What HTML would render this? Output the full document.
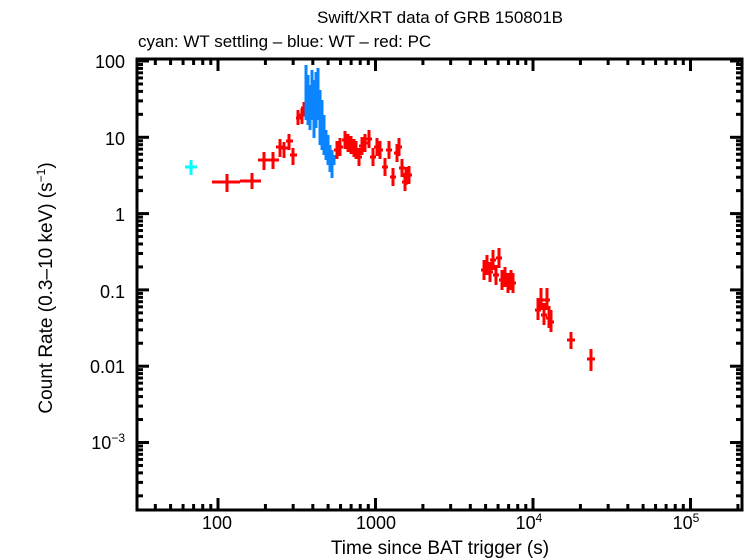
<!DOCTYPE html>
<html><head><meta charset="utf-8"><style>
html,body{margin:0;padding:0;background:#fff}
svg{display:block;font-family:"Liberation Sans",sans-serif}
</style></head><body>
<svg id="s" width="746" height="558" viewBox="0 0 746 558" xmlns="http://www.w3.org/2000/svg">
<text x="440" y="23" font-size="17" text-anchor="middle">Swift/XRT data of GRB 150801B</text>
<text x="138" y="47" font-size="17">cyan: WT settling – blue: WT – red: PC</text>
<text x="440" y="554" font-size="19" text-anchor="middle">Time since BAT trigger (s)</text>
<text transform="translate(52,288) rotate(-90)" font-size="19" text-anchor="middle">Count Rate (0.3–10 keV) (s<tspan dy="-7" font-size="12">−1</tspan><tspan dy="7">)</tspan></text>
<g font-size="18" text-anchor="end">
<text x="125" y="68">100</text><text x="125" y="145">10</text><text x="125" y="221">1</text>
<text x="125" y="298">0.1</text><text x="125" y="373">0.01</text>
<text x="125" y="449">10<tspan dy="-7" font-size="12">−3</tspan></text>
</g>
<g font-size="18" text-anchor="middle">
<text x="217" y="529">100</text><text x="376" y="529">1000</text>
<text x="529" y="529">10<tspan dy="-7" font-size="12">4</tspan></text>
<text x="686" y="529">10<tspan dy="-7" font-size="12">5</tspan></text>
</g>
<g id="ticks" stroke="#000" stroke-width="3"></g>
<rect x="137" y="59" width="605" height="451" fill="none" stroke="#000" stroke-width="3"/>
<g id="d"></g>
</svg>
<script>
var t=document.getElementById('ticks'),h='';
var L=137,R=742,T=59,B=510;
function X(l){return 218+(l-2)*157.5}
function Y(l){return 61+(2-l)*76.3}
for(var d=1;d<=5;d++)for(var m=1;m<10;m++){var x=X(d+Math.log10(m));if(x<L||x>R)continue;var len=m==1?12:6;
h+='<line x1="'+x+'" y1="'+B+'" x2="'+x+'" y2="'+(B-len)+'"/><line x1="'+x+'" y1="'+T+'" x2="'+x+'" y2="'+(T+len)+'"/>';}
for(var d=-4;d<=2;d++)for(var m=1;m<10;m++){var y=Y(d+Math.log10(m));if(y<T||y>B)continue;var len=m==1?12:6;
h+='<line x1="'+L+'" y1="'+y+'" x2="'+(L+len)+'" y2="'+y+'"/><line x1="'+R+'" y1="'+y+'" x2="'+(R-len)+'" y2="'+y+'"/>';}
t.innerHTML=h;
var g='';
function eb(x,y,x1,x2,y1,y2,c){g+='<path d="M'+x1+' '+y+'H'+x2+'M'+x+' '+y1+'V'+y2+'" stroke="'+c+'" stroke-width="3" fill="none"/>';}
eb(191,167,185,197,160,175,'#0ff');
var r='#f00';
eb(227,182,212,240,174,192,r);eb(252,181,240,261,173,189,r);
eb(264,160,258,272,152,170,r);eb(273,160,266,279,152,169,r);
eb(280,147,276,285,139,157,r);eb(284,148,280,288,142,158,r);
eb(289,141,286,293,134,150,r);eb(293,155,290,297,148,165,r);
eb(298,118,296,301,110,125,r);eb(302,115,299,305,108,124,r);eb(304,108,301,307,102,115,r);
var pts=[[337,150],[340,147],[345,140],[348,143],[351,145],[354,148],[356,150],[359,157],[362,146],[365,143],[369,139],[373,157],[377,147],[380,150],[385,167],[389,150],[393,177],[397,153],[399,147],[402,168],[405,182],[409,175],[406,176]];
pts.forEach(function(p){eb(p[0],p[1],p[0]-3,p[0]+3,p[1]-9,p[1]+9,r)});
[[484,270],[487,265],[490,272],[493,260],[496,275],[499,258],[502,280],[505,277],[508,283],[511,280],[513,283]].forEach(function(p){eb(p[0],p[1],p[0]-3,p[0]+3,p[1]-10,p[1]+10,r)});
[[538,310],[541,300],[544,315],[547,300],[549,318],[551,322]].forEach(function(p){eb(p[0],p[1],p[0]-3,p[0]+3,p[1]-12,p[1]+10,r)});
eb(571,340,567,575,332,349,r);eb(591,359,587,595,349,371,r);
var b=[[306,65,120],[308,75,125],[310,85,130],[312,70,120],[314,80,138],[316,72,128],[318,68,120],[320,90,145],[322,100,150],[324,115,155],[326,130,160],[328,135,165],[330,145,172],[332,150,178],[334,155,165]];
b.forEach(function(p){g+='<rect x="'+(p[0]-1.5)+'" y="'+p[1]+'" width="3" height="'+(p[2]-p[1])+'" fill="#0a84ff"/>'});
document.getElementById('d').innerHTML=g;
</script>
</body></html>
